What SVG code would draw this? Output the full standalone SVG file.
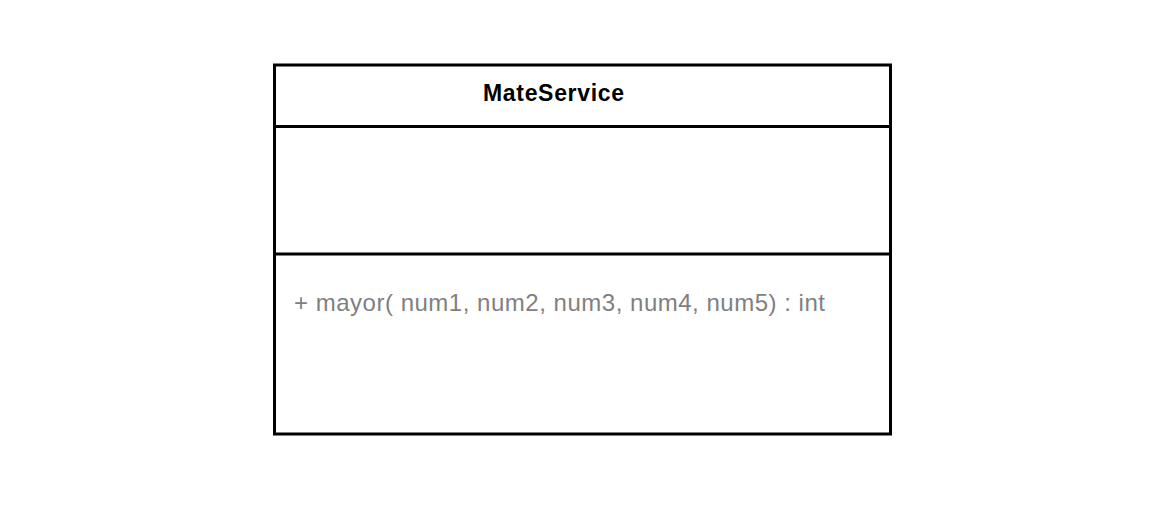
<svg xmlns="http://www.w3.org/2000/svg" width="1173" height="532" viewBox="0 0 1173 532">
  <style>
    .frame { fill: #ffffff; stroke: #000000; stroke-width: 3; }
    .divider { stroke: #000000; stroke-width: 3; }
    .title { font-family: "Liberation Sans", Arial, sans-serif; font-size: 23px; font-weight: bold; fill: #000000; }
    .member { font-family: "Liberation Sans", Arial, sans-serif; font-size: 24px; fill: #808080; }
  </style>
  <rect width="1173" height="532" fill="#ffffff"/>
  <g id="MateService">
    <rect class="frame" x="274.5" y="65" width="616" height="369"/>
    <line class="divider" x1="274.5" y1="126.5" x2="890.5" y2="126.5"/>
    <line class="divider" x1="274.5" y1="254" x2="890.5" y2="254"/>
    <text class="title" x="483" y="101" textLength="141">MateService</text>
    <text class="member" x="294" y="311" textLength="531">+ mayor( num1, num2, num3, num4, num5) : int</text>
  </g>
  <g id="connectors"/>
</svg>
